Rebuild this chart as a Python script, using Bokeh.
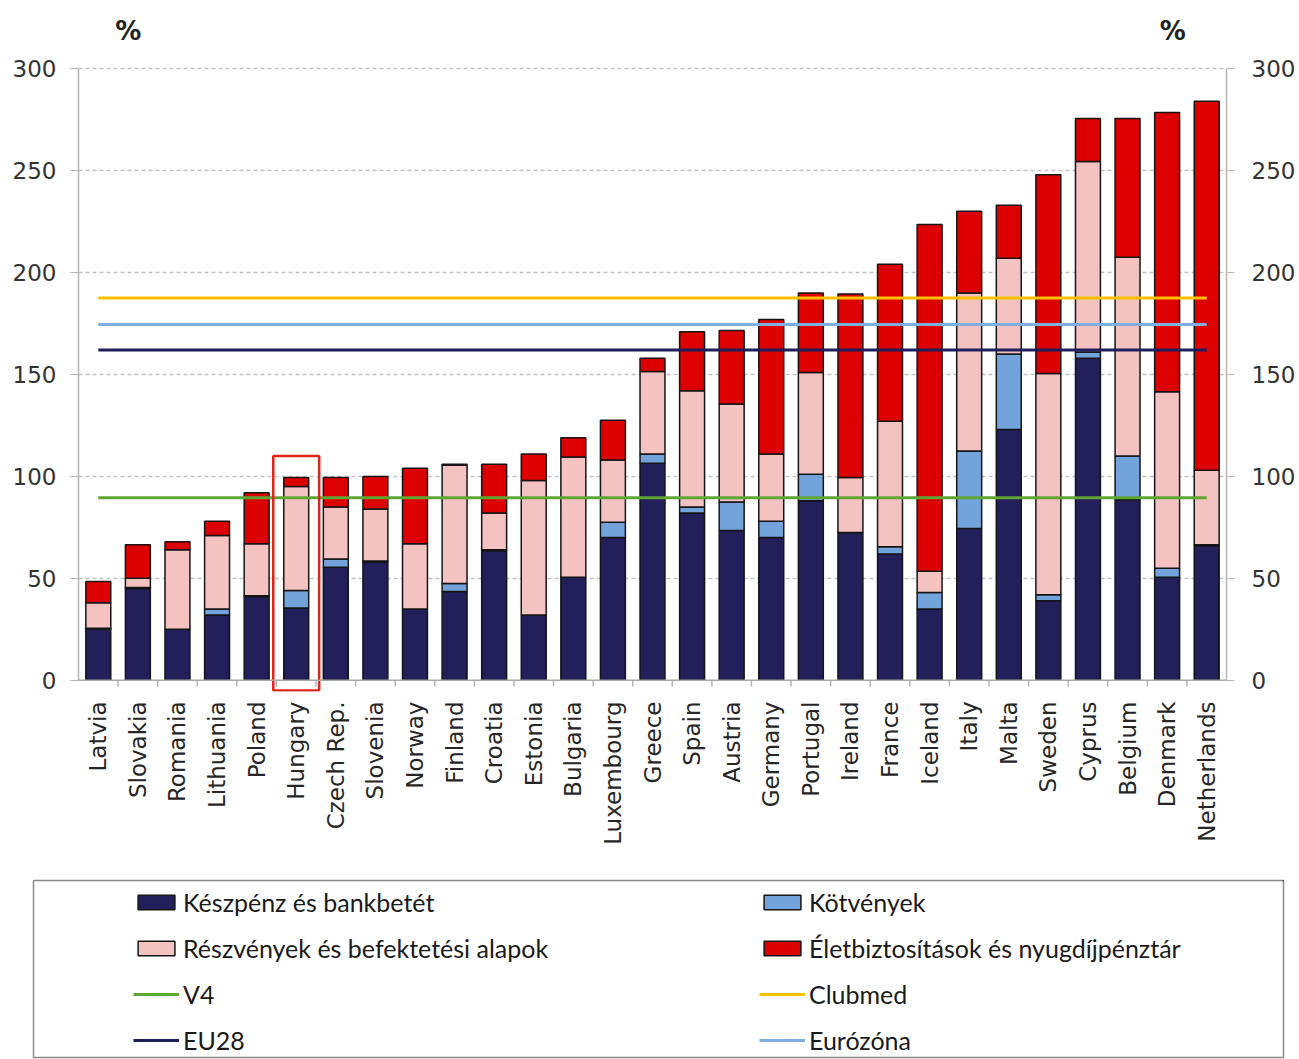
import math
from bokeh.plotting import figure
from bokeh.models import (ColumnDataSource, FactorRange, Range1d, LinearAxis, Span,
                          Label, Legend, LegendItem, FixedTicker)
from bokeh.layouts import column
from bokeh.embed import file_html
from bokeh.resources import INLINE

countries = ["Latvia", "Slovakia", "Romania", "Lithuania", "Poland", "Hungary", "Czech Rep.",
             "Slovenia", "Norway", "Finland", "Croatia", "Estonia", "Bulgaria", "Luxembourg",
             "Greece", "Spain", "Austria", "Germany", "Portugal", "Ireland", "France", "Iceland",
             "Italy", "Malta", "Sweden", "Cyprus", "Belgium", "Denmark", "Netherlands"]
cash = [25, 45, 25, 32, 41, 35.5, 55.5, 58, 35, 43.5, 63.5, 32, 50.5, 70, 106.5, 82, 73.5, 70,
        88, 72.5, 62, 35, 74.5, 123, 39, 158, 88.5, 50.5, 66]
bonds = [0.5, 0.5, 0, 3, 0.5, 8.5, 4, 0.5, 0, 4, 0.5, 0, 0, 7.5, 4.5, 3, 14, 8, 13, 0, 3.5, 8,
         38, 37, 3, 3, 21.5, 4.5, 0.5]
stocks = [12.5, 4.5, 39, 36, 25.5, 51, 25.5, 25.5, 32, 58, 18, 66, 59, 30.5, 40.5, 57, 48, 33,
          50, 27, 61.5, 10.5, 77.5, 47, 108.5, 93.5, 97.5, 86.5, 36.5]
life = [10.5, 16.5, 4, 7, 25, 4.5, 14.5, 16, 37, 0.5, 24, 13, 9.5, 19.5, 6.5, 29, 36, 66, 39, 90,
        77, 170, 40, 26, 97.5, 21, 68, 137, 181]

avg_names = ["V4", "Clubmed", "EU28", "Eurózóna"]
avg_values = [89.5, 187.5, 162, 174.5]

series_names = ["Készpénz és bankbetét", "Kötvények",
                "Részvények és befektetési alapok", "Életbiztosítások és nyugdíjpénztár"]
y_ticks = [0, 50, 100, 150, 200, 250, 300]
highlight = "Hungary"

bar_colors = ["#221f5a", "#72a3da", "#f5c2c2", "#dc0000"]
line_colors = {"V4": "#5fa634", "Clubmed": "#ffc000", "EU28": "#1f1d5a", "Eurózóna": "#7faee2"}

FONT = "DejaVu Sans"
LFONT = "Lato"

src = ColumnDataSource(dict(country=countries, cash=cash, bonds=bonds, stocks=stocks, life=life))

p = figure(x_range=FactorRange(*countries), y_range=Range1d(-5.5, 329),
           width=1299, height=870, output_backend="svg", toolbar_location=None,
           min_border_left=78, min_border_right=73, min_border_top=9, min_border_bottom=179)
p.outline_line_color = None
p.background_fill_color = "white"

# baseline and category boundary ticks
p.add_layout(Span(location=0, dimension="width", line_color="#a8a8a8", line_width=1.5))
p.segment(x0=list(range(1, len(countries))), x1=list(range(1, len(countries))),
          y0=[0] * (len(countries) - 1), y1=[-3] * (len(countries) - 1),
          line_color="#b5b5b5", line_width=1.5)

p.vbar_stack(["cash", "bonds", "stocks", "life"], x="country", width=0.63, source=src,
             fill_color=bar_colors, line_color="#151515", line_width=1.5)

for name, val in zip(avg_names, avg_values):
    p.line(x=[countries[0], countries[-1]], y=[val, val], line_color=line_colors[name],
           line_width=3)

p.rect(x=[highlight], y=[52.5], width=1.16, height=115, fill_alpha=0,
       line_color="#e2231a", line_width=2.5)

# axes
p.xaxis.axis_line_color = None
p.xaxis.major_tick_line_color = None
p.xaxis.major_label_orientation = math.pi / 2
p.xaxis.major_label_text_font = FONT
p.xaxis.major_label_text_font_size = "23px"
p.xaxis.major_label_text_color = "#262626"
p.xaxis.major_label_standoff = 4

p.yaxis.ticker = FixedTicker(ticks=y_ticks)
ry = LinearAxis(ticker=FixedTicker(ticks=y_ticks))
p.add_layout(ry, "right")
for ax, so in ((p.yaxis[0], 14), (ry, 17)):
    ax.bounds = (0, 300)
    ax.axis_line_color = "#b5b5b5"
    ax.axis_line_width = 1.5
    ax.major_tick_line_color = "#b5b5b5"
    ax.major_tick_out = 8
    ax.major_tick_in = 0
    ax.minor_tick_line_color = None
    ax.major_label_text_font = FONT
    ax.major_label_text_font_size = "23px"
    ax.major_label_text_color = "#333333"
    ax.major_label_standoff = so

p.xgrid.grid_line_color = None
p.ygrid.ticker = FixedTicker(ticks=y_ticks[1:])
p.ygrid.grid_line_color = "#c4c4c4"
p.ygrid.grid_line_dash = "4 3"
p.ygrid.grid_line_width = 1.5

for xpos in (1.26, 27.64):
    p.add_layout(Label(x=xpos, y=318.5, text="%", text_font=FONT, text_font_size="26px",
                       text_font_style="bold", text_align="center", text_baseline="middle",
                       text_color="#222222"))

# legend figure
lf = figure(width=1299, height=189, x_range=Range1d(0, 1), y_range=Range1d(0, 1),
            output_backend="svg", toolbar_location=None, x_axis_type=None, y_axis_type=None,
            min_border_left=33, min_border_right=16, min_border_top=10, min_border_bottom=2)
lf.outline_line_color = "#8a8a8a"
lf.outline_line_width = 1.5

for fig in (p, lf):
    if "frame_align" in fig.properties():
        fig.frame_align = False

dummy = {}
for name, col in zip(series_names, bar_colors):
    dummy[name] = lf.vbar(x=[5], top=[5], bottom=[4], width=0.5, fill_color=col,
                          line_color="#151515", line_width=1.5)
for name in avg_names:
    dummy[name] = lf.line(x=[5, 6], y=[5, 5], line_color=line_colors[name], line_width=3)

col1 = [series_names[0], series_names[2], "V4", "EU28"]
col2 = [series_names[1], series_names[3], "Clubmed", "Eurózóna"]
for names, loc in ((col1, (100, 2)), (col2, (726, 2))):
    leg = Legend(items=[LegendItem(label=n, renderers=[dummy[n]]) for n in names],
                 location=loc, border_line_color=None, background_fill_alpha=0,
                 padding=0, margin=0, spacing=16, glyph_width=46, glyph_height=18,
                 label_height=20, label_standoff=4, label_text_font=LFONT,
                 label_text_font_size="25px", label_text_color="#1a1a1a")
    lf.add_layout(leg, "center")

layout = column(p, lf, spacing=0)
open("out.html", "w").write(file_html(layout, INLINE))
